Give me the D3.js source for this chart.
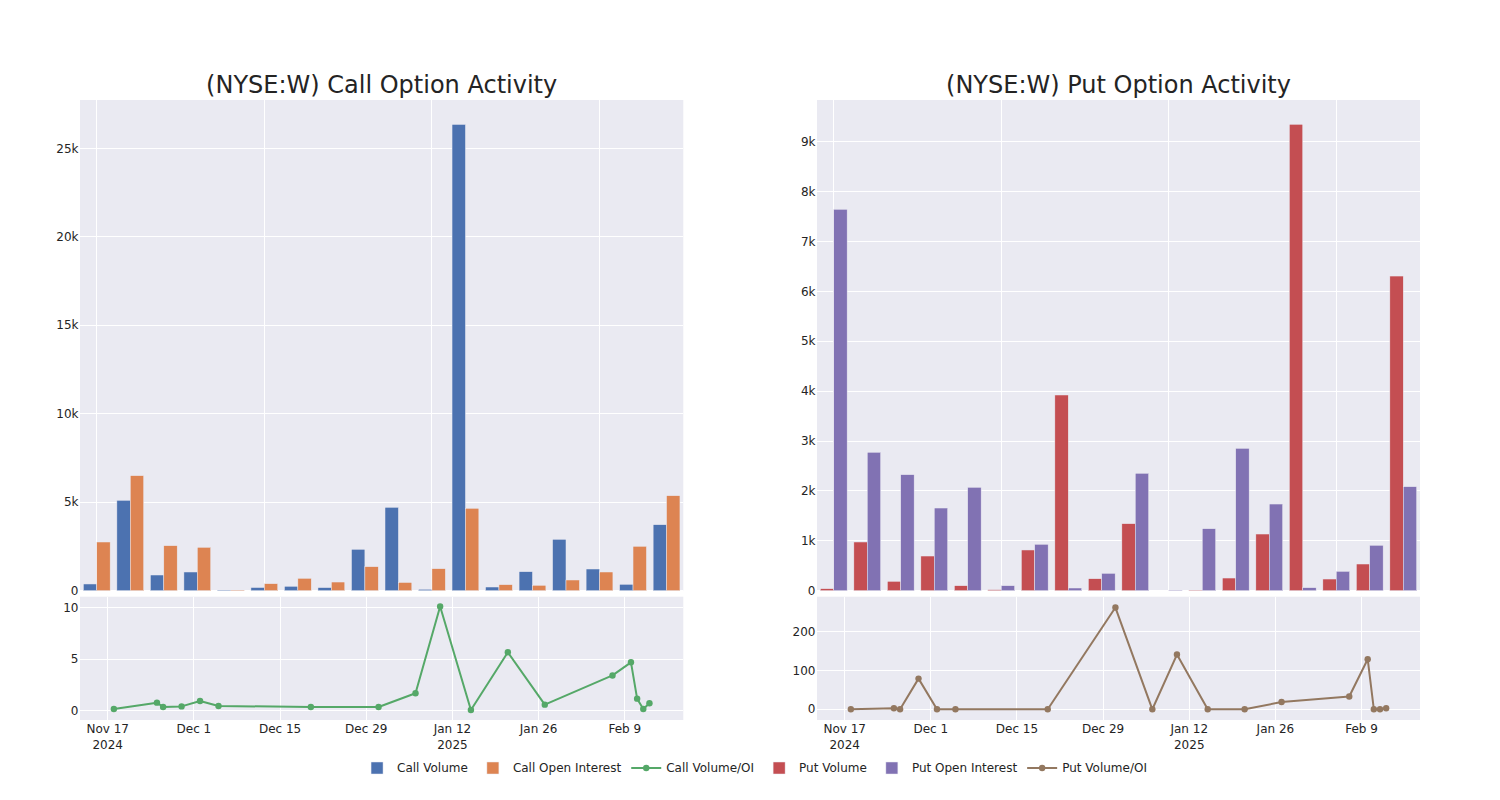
<!DOCTYPE html>
<html><head><meta charset="utf-8">
<script src="https://cdn.jsdelivr.net/npm/d3@7"></script>
<style>
body{margin:0;background:#fff}
svg{display:block}
text{font-family:"DejaVu Sans",sans-serif;fill:rgb(36,36,36)}
</style>
</head><body>
<svg id="c" width="1500" height="800"></svg>
<script>
// ---------- data ----------
const dates = ["2024-11-18","2024-11-25","2024-11-26","2024-11-29","2024-12-02","2024-12-05",
  "2024-12-20","2024-12-31","2025-01-06","2025-01-10","2025-01-15","2025-01-21","2025-01-27",
  "2025-02-07","2025-02-10","2025-02-11","2025-02-12","2025-02-13"];
const callVolume = [380, 5108, 887, 1057, 35, 180, 250, 175, 2340, 4713, 80, 26350, 209, 1074, 2904, 1226, 362, 3729];
const callOpenInterest = [2752, 6500, 2543, 2452, 37, 396, 700, 490, 1356, 465, 1243, 4656, 340, 305, 605, 1057, 2509, 5368];
const callVolumeOI = [0.16, 0.78, 0.36, 0.42, 0.94, 0.46, 0.36, 0.36, 1.69, 10.1, 0.07, 5.67, 0.59, 3.42, 4.69, 1.17, 0.16, 0.72];
const putVolume = [40, 976, 188, 695, 100, 20, 816, 3922, 240, 1343, 0, 10, 254, 1136, 9347, 234, 535, 6306];
const putOpenInterest = [7643, 2774, 2325, 1657, 2072, 100, 930, 54, 348, 2353, 10, 1242, 2853, 1737, 60, 388, 910, 2084];
const putVolumeOI = [0, 2.5, 0, 79, 0, 0, 0, 262, 0, 141, 0, 0, 18.7, 33, 129, 0, 0, 2.5];

const callBarTicks = [0, 5000, 10000, 15000, 20000, 25000];
const putBarTicks = [0, 1000, 2000, 3000, 4000, 5000, 6000, 7000, 8000, 9000];
const callRatioTicks = [0, 5, 10];
const putRatioTicks = [0, 100, 200];
const titles = ["(NYSE:W) Call Option Activity", "(NYSE:W) Put Option Activity"];
const legendLabels = ["Call Volume", "Call Open Interest", "Call Volume/OI", "Put Volume", "Put Open Interest", "Put Volume/OI"];

// ---------- styling ----------
const BG = "rgb(234,234,242)";
const C = {blue:"rgb(76,114,176)", orange:"rgb(221,132,82)", green:"rgb(85,168,104)",
           red:"rgb(196,78,82)", purple:"rgb(129,114,179)", brown:"rgb(147,120,96)"};

const svg = d3.select("#c");
const parse = d3.utcParse("%Y-%m-%d");
const dateVals = dates.map(parse);
const timeDomain = [new Date(Date.UTC(2024,10,12,12)), new Date(Date.UTC(2025,1,18,12))];
const tickDates = d3.utcDay.range(new Date(Date.UTC(2024,10,17)), new Date(Date.UTC(2025,1,19)), 14);
const fmtMD = d3.utcFormat("%b %-d"), fmtY = d3.utcFormat("%Y");

const TOP = {y0: 100, y1: 590.7};
const BOT = {y0: 596.7, y1: 720};

function panel(cfg) {
  const g = svg.append("g");
  const {x0, x1} = cfg;
  // backgrounds
  g.append("rect").attr("x", x0).attr("y", TOP.y0).attr("width", x1 - x0).attr("height", TOP.y1 - TOP.y0).attr("fill", BG);
  g.append("rect").attr("x", x0).attr("y", BOT.y0).attr("width", x1 - x0).attr("height", BOT.y1 - BOT.y0).attr("fill", BG);

  // ----- top bars -----
  const xb = d3.scaleBand().domain(dates).range([x0, x1]).padding(0);
  const xs = d3.scaleBand().domain([0, 1]).range([0.1 * xb.bandwidth(), 0.9 * xb.bandwidth()]).padding(0);
  const yb = d3.scaleLinear().domain([0, cfg.barMax]).range([TOP.y1, TOP.y0]);

  const grid = g.append("g").attr("stroke", "#fff").attr("stroke-width", 1).attr("shape-rendering", "crispEdges");
  cfg.barTicks.forEach(t => grid.append("line").attr("x1", x0).attr("x2", x1).attr("y1", yb(t)).attr("y2", yb(t)));
  dates.forEach((d, i) => { if (i % 5 === 0) {
    const cx = xb(d) + xb.bandwidth() / 2;
    grid.append("line").attr("x1", cx).attr("x2", cx).attr("y1", TOP.y0).attr("y2", TOP.y1);
  }});

  const series = [cfg.vol, cfg.oi];
  const cols = [cfg.c1, cfg.c2];
  series.forEach((arr, s) => {
    g.append("g").selectAll("rect").data(arr).join("rect")
      .attr("x", (v, i) => xb(dates[i]) + xs(s))
      .attr("width", xs.bandwidth())
      .attr("y", v => yb(v))
      .attr("height", v => yb(0) - yb(v))
      .attr("fill", cols[s])
      .attr("stroke", BG).attr("stroke-width", 0.5);
  });

  g.append("g").selectAll("text").data(cfg.barTicks).join("text")
    .attr("x", x0 - 1.5).attr("y", t => yb(t)).attr("dy", "0.35em")
    .attr("text-anchor", "end").attr("font-size", 12)
    .text(t => t === 0 ? "0" : d3.format("~s")(t));

  // title
  g.append("text").attr("x", (x0 + x1) / 2).attr("y", 92.5).attr("text-anchor", "middle")
    .attr("font-size", 24).text(cfg.title);

  // ----- bottom line -----
  const xt = d3.scaleUtc().domain(timeDomain).range([x0, x1]);
  const yl = d3.scaleLinear().domain(cfg.lineDomain).range([BOT.y1, BOT.y0]);
  const grid2 = g.append("g").attr("stroke", "#fff").attr("stroke-width", 1).attr("shape-rendering", "crispEdges");
  cfg.lineTicks.forEach(t => grid2.append("line").attr("x1", x0).attr("x2", x1).attr("y1", yl(t)).attr("y2", yl(t)));
  tickDates.forEach(d => grid2.append("line").attr("x1", xt(d)).attr("x2", xt(d)).attr("y1", BOT.y0).attr("y2", BOT.y1));

  g.append("g").selectAll("text").data(cfg.lineTicks).join("text")
    .attr("x", x0 - 1.5).attr("y", t => yl(t)).attr("dy", "0.35em")
    .attr("text-anchor", "end").attr("font-size", 12).text(t => t);

  const xl = g.append("g");
  tickDates.forEach((d, i) => {
    const t = xl.append("text").attr("x", xt(d)).attr("y", 733).attr("text-anchor", "middle").attr("font-size", 12);
    t.text(fmtMD(d));
    const prev = i > 0 ? tickDates[i - 1] : null;
    if (i === 0 || fmtY(prev) !== fmtY(d)) {
      xl.append("text").attr("x", xt(d)).attr("y", 748.5).attr("text-anchor", "middle").attr("font-size", 12).text(fmtY(d));
    }
  });

  const line = d3.line().x((v, i) => xt(dateVals[i])).y(v => yl(v));
  g.append("path").datum(cfg.ratio).attr("d", line).attr("fill", "none")
    .attr("stroke", cfg.c3).attr("stroke-width", 2).attr("stroke-linejoin", "round");
  g.append("g").selectAll("circle").data(cfg.ratio).join("circle")
    .attr("cx", (v, i) => xt(dateVals[i])).attr("cy", v => yl(v)).attr("r", 3.2).attr("fill", cfg.c3);
}

panel({x0: 80, x1: 683.3, title: titles[0], vol: callVolume, oi: callOpenInterest, ratio: callVolumeOI,
  barMax: 27730, barTicks: callBarTicks, lineDomain: [-0.9, 11.05], lineTicks: callRatioTicks,
  c1: C.blue, c2: C.orange, c3: C.green});
panel({x0: 817, x1: 1420, title: titles[1], vol: putVolume, oi: putOpenInterest, ratio: putVolumeOI,
  barMax: 9834, barTicks: putBarTicks, lineDomain: [-27.6, 290], lineTicks: putRatioTicks,
  c1: C.red, c2: C.purple, c3: C.brown});

// ---------- legend ----------
const legendKinds = ["bar", "bar", "line", "bar", "bar", "line"];
const legendColors = [C.blue, C.orange, C.green, C.red, C.purple, C.brown];
const lg = svg.append("g");
const ly = 768;
const items = legendLabels.map((lab, i) => {
  const t = lg.append("text").attr("y", ly).attr("dy", "0.35em").attr("font-size", 12).text(lab);
  return {t, w: t.node().getComputedTextLength(), i};
});
const total = d3.sum(items, d => d.w + 40) + 5 * (items.length - 1);
let xs0 = 752 - total / 2;
items.forEach(it => {
  const tx = xs0 + 40;
  it.t.attr("x", tx);
  const col = legendColors[it.i];
  if (legendKinds[it.i] === "bar") {
    lg.append("rect").attr("x", tx - 26).attr("y", ly - 6).attr("width", 12).attr("height", 12)
      .attr("fill", col).attr("stroke", BG).attr("stroke-width", 0.5);
  } else {
    lg.append("line").attr("x1", tx - 35).attr("x2", tx - 5).attr("y1", ly).attr("y2", ly)
      .attr("stroke", col).attr("stroke-width", 2);
    lg.append("circle").attr("cx", tx - 20).attr("cy", ly).attr("r", 3.2).attr("fill", col);
  }
  xs0 = tx + it.w + 5;
});
</script>
</body></html>
